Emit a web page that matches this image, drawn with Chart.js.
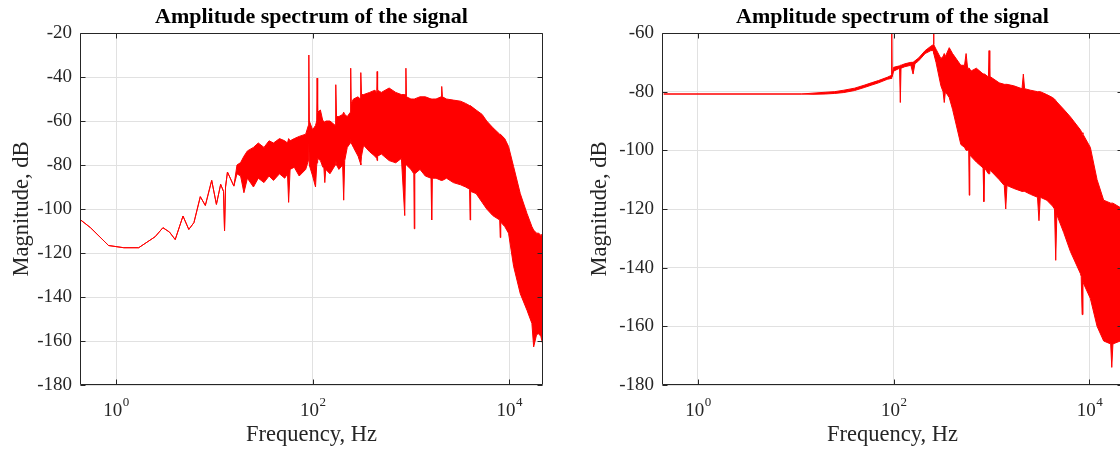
<!DOCTYPE html>
<html>
<head>
<meta charset="utf-8">
<script src="https://cdn.jsdelivr.net/npm/chart.js@4.4.1/dist/chart.umd.min.js"></script>
<style>
  html, body { margin: 0; padding: 0; background: #fff; overflow: hidden; width: 1120px; height: 451px; }
  #leftChart { position: absolute; left: 0; top: 0; }
  #rightChart { position: absolute; left: 560px; top: 0; }
</style>
</head>
<body>
<canvas id="leftChart" width="560" height="451"></canvas>
<canvas id="rightChart" width="600" height="451"></canvas>
<script>
// values: frequency (Hz), top and bottom of the red band (dB)
const leftFreq = [0.42, 0.55, 0.84, 1.2, 1.7, 2.5, 3.0, 3.5, 4.0, 4.8, 5.5, 6.2, 7.2, 8.1, 9.4, 10.5, 11.6, 12.4, 12.7, 13.0,
  13.6, 15.8, 17, 18.5, 20, 21.7, 25, 28, 32, 36, 40, 46, 52, 55.5, 57, 59, 65, 73, 85, 90.5,
  91.5, 92.5, 100, 107, 110, 111, 112.5, 120, 127, 130, 133, 136, 150, 170, 172, 175, 185, 202, 207, 212,
  225, 242, 244, 247, 260, 290, 305, 309, 314, 330, 380, 430, 449, 453, 458, 500, 600, 700, 800, 865,
  880, 889, 900, 1000, 1070, 1081, 1095, 1236, 1400, 1600, 1626, 1650, 1800, 2030, 2057, 2090, 2300, 2700, 3200, 3600,
  3950, 4000, 4050, 4600, 5300, 5900, 6800, 8000, 8100, 8200, 9000, 9840, 11070, 12950, 15150, 17000, 17710, 19000, 20000, 21000,
  22050];
const leftUpper = [-104.4, -108.5, -116.6, -117.6, -117.6, -112.6, -108.5, -110.5, -113.9, -103.2, -109.3, -106.2, -94.4, -98.4, -87, -97.9, -88.8, -92, -110, -90,
  -83.2, -89.6, -80, -78.9, -76, -73.6, -72, -70, -72, -69, -70, -68, -69, -70, -68, -69, -68, -67, -66, -62,
  -30, -60, -64, -62, -60, -40.5, -56, -55, -60, -60, -61, -60, -60, -62, -43.5, -58, -58, -57, -56, -57,
  -58, -56, -36, -52, -50, -49, -50, -38, -48, -48, -47, -46, -47, -37.5, -46, -47, -45, -47, -48, -48,
  -48, -36, -49, -50, -50, -50, -50, -49, -49, -50, -50, -50, -50, -49, -44.3, -49, -50, -50.5, -51, -52,
  -53, -53, -53, -55, -57, -60, -63, -66, -66, -66, -68, -71.6, -80.7, -93, -102, -108, -109.6, -111, -111, -112,
  -111];
const leftLower = [-104.4, -108.5, -116.6, -117.6, -117.6, -112.6, -108.5, -110.5, -113.9, -103.2, -109.3, -106.2, -94.4, -98.4, -87, -97.9, -88.8, -92, -110, -90,
  -83.2, -89.6, -84, -85, -92.6, -86, -90, -86, -88, -85, -87, -84, -86, -84, -97, -82, -81, -85, -82, -78,
  -70, -80, -85, -90, -80, -79, -77, -78, -81, -81, -88, -82, -84, -80, -78, -80, -82, -80, -96, -78,
  -72, -70, -68, -70, -72, -76, -79, -80, -76, -71, -74, -76, -77, -78, -76, -75, -78, -79, -77, -103,
  -80, -80, -80, -82, -84, -109, -84, -82, -85, -86, -105, -86, -86, -87, -87, -87, -86, -88, -89, -90,
  -91, -105, -92, -93, -97, -100, -103, -105, -113, -106, -108, -111, -126, -138.5, -146, -152, -162.7, -157, -156.7, -158,
  -162];

const rightFreq = [0.448, 11.5, 15, 20, 25, 31, 40, 50, 59, 70, 86, 94, 95.5, 96, 96.5, 100, 115, 117, 119, 130,
  150, 158, 165, 180, 210, 240, 254, 256, 258, 271, 304, 320, 329, 338, 370, 400, 486, 530, 550, 570,
  585, 592, 600, 615, 700, 820, 835, 850, 930, 944, 960, 982, 1200, 1350, 1397, 1440, 1689, 2050, 2114, 2180,
  2500, 2950, 3055, 3150, 3670, 4200, 4400, 4530, 4650, 5460, 6400, 8090, 8250, 8430, 8600, 10230, 11980, 13990, 16500, 16930,
  17400, 20700, 22050];
const rightUpper = [-80.8, -80.8, -80.5, -80.2, -80, -79.5, -78.8, -77.8, -77, -76.2, -75.1, -74.5, -74.5, -60.3, -74, -71.7, -71.2, -71, -71, -70.5,
  -70, -70, -69.5, -68.5, -66, -64.5, -64, -60, -64, -65.5, -68.7, -68, -67, -68, -65, -67, -71, -71, -67, -72,
  -72, -72, -72, -73, -72, -74, -74, -74, -75, -66, -75, -75, -77, -77.5, -77.5, -77.5, -78, -79, -74, -79,
  -79.5, -80, -80, -80, -81, -82, -82.5, -83, -83.5, -86, -88.6, -93, -93.5, -94, -94.5, -99, -110, -117, -118, -118,
  -118, -119.5, -119];
const rightLower = [-80.8, -80.8, -80.9, -80.8, -80.6, -80.3, -79.6, -78.6, -77.8, -77, -75.8, -75.5, -75.5, -75, -75, -73, -72, -83.7, -72, -71.5,
  -71, -74, -70.5, -69.5, -67, -66, -66, -66, -67, -70, -78, -80, -83.7, -80, -82, -86, -98, -99, -100, -100,
  -100, -115.3, -101, -102, -104, -106, -117.5, -106, -108, -108, -107, -107, -110, -112, -120, -112, -113, -114, -114, -114,
  -115, -116, -124, -116, -117, -119, -120, -137.5, -122, -128, -134.5, -142, -143, -156, -145, -150.5, -160, -165, -166, -174,
  -166, -165, -168];

const xTicks = [1, 100, 10000];
const xTickBase = '10';
const xTickExponents = ['0', '2', '4'];
const xRange = [0.43, 22050];
const leftYRange = [-180, -20];
const rightYRange = [-180, -60];

const serif = '"Liberation Serif", "Times New Roman", serif';
const inkColor = '#262626';

// box round the plot, short inward ticks and the 10^n tick labels, as in the original
const framePlugin = {
    id: 'frame',
    afterDatasetsDraw(chart) {
        const { ctx, chartArea: a, scales } = chart;
        const l = Math.round(a.left) + 0.5, r = Math.round(a.right) - 0.5;
        const t = Math.round(a.top) + 0.5, b = Math.round(a.bottom) - 0.5;
        ctx.save();
        ctx.strokeStyle = inkColor;
        ctx.lineWidth = 1;
        ctx.beginPath();
        ctx.rect(l, t, r - l, b - t);
        scales.y.ticks.forEach(tk => {
            const py = Math.round(scales.y.getPixelForValue(tk.value)) + 0.5;
            ctx.moveTo(l, py); ctx.lineTo(l + 5, py);
            ctx.moveTo(r, py); ctx.lineTo(r - 5, py);
        });
        scales.x.ticks.forEach(tk => {
            const px = Math.round(scales.x.getPixelForValue(tk.value)) + 0.5;
            ctx.moveTo(px, b); ctx.lineTo(px, b - 5);
            ctx.moveTo(px, t); ctx.lineTo(px, t + 5);
        });
        ctx.stroke();

        // x tick labels: "10" with a raised exponent
        ctx.fillStyle = inkColor;
        ctx.textBaseline = 'alphabetic';
        ctx.textAlign = 'left';
        xTicks.forEach((v, i) => {
            const px = scales.x.getPixelForValue(v);
            ctx.font = '19px ' + serif;
            const w1 = ctx.measureText(xTickBase).width;
            ctx.font = '13px ' + serif;
            const w2 = ctx.measureText(xTickExponents[i]).width;
            const x0 = px - (w1 + w2) / 2;
            ctx.font = '19px ' + serif;
            ctx.fillText(xTickBase, x0, b + 31);
            ctx.font = '13px ' + serif;
            ctx.fillText(xTickExponents[i], x0 + w1 + 0.5, b + 21);
        });
        ctx.restore();
    }
};

function toPoints(freq, values) {
    return freq.map((f, i) => ({ x: f, y: values[i] }));
}

function makeChart(id, freq, upper, lower, yRange, axisWidth, rightPad, yTitlePad) {
    const ctx = document.getElementById(id).getContext('2d');
    return new Chart(ctx, {
        type: 'line',
        data: {
            datasets: [
                {
                    label: 'top',
                    data: toPoints(freq, upper),
                    borderColor: '#ff0000',
                    borderWidth: 1,
                    pointRadius: 0,
                    tension: 0,
                    fill: false
                },
                {
                    label: 'bottom',
                    data: toPoints(freq, lower),
                    borderColor: '#ff0000',
                    backgroundColor: '#ff0000',
                    borderWidth: 1,
                    pointRadius: 0,
                    tension: 0,
                    fill: '-1'
                }
            ]
        },
        options: {
            responsive: false,
            animation: false,
            devicePixelRatio: 1,
            layout: { padding: { left: 0, right: rightPad, top: 0, bottom: 0 } },
            plugins: {
                legend: { display: false },
                tooltip: { enabled: false },
                title: {
                    display: true,
                    text: 'Amplitude spectrum of the signal',
                    fullSize: false,
                    color: '#000',
                    font: { family: serif, size: 22, weight: 'bold' },
                    padding: { top: 4, bottom: 2.6 }
                }
            },
            scales: {
                x: {
                    type: 'logarithmic',
                    min: xRange[0],
                    max: xRange[1],
                    afterBuildTicks: scale => { scale.ticks = xTicks.map(v => ({ value: v })); },
                    afterFit: scale => { scale.height = 66; },
                    grid: { color: '#e1e1e1', drawTicks: false },
                    border: { display: false },
                    ticks: { display: false },
                    title: {
                        display: true,
                        text: 'Frequency, Hz',
                        color: inkColor,
                        font: { family: serif, size: 22.5 },
                        padding: { top: 0, bottom: 2 }
                    }
                },
                y: {
                    min: yRange[0],
                    max: yRange[1],
                    afterFit: scale => { scale.width = axisWidth; },
                    grid: { color: '#e1e1e1', drawTicks: false },
                    border: { display: false },
                    ticks: {
                        stepSize: 20,
                        padding: 8,
                        color: inkColor,
                        font: { family: serif, size: 19 },
                        callback: v => String(v)
                    },
                    title: {
                        display: true,
                        text: 'Magnitude, dB',
                        color: inkColor,
                        font: { family: serif, size: 22.5 },
                        padding: { top: yTitlePad, bottom: 0 }
                    }
                }
            }
        },
        plugins: [framePlugin]
    });
}

makeChart('leftChart', leftFreq, leftUpper, leftLower, leftYRange, 80, 17, 8.5);
makeChart('rightChart', rightFreq, rightUpper, rightLower, rightYRange, 102, 37, 26.5);
</script>
</body>
</html>
